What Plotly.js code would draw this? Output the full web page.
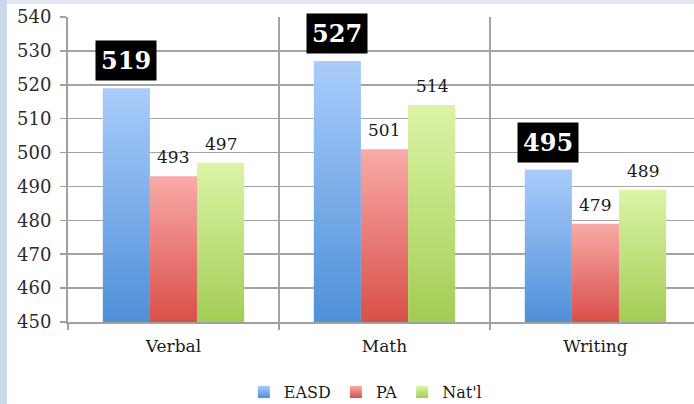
<!DOCTYPE html>
<html>
<head>
<meta charset="utf-8">
<script src="https://cdn.plot.ly/plotly-3.0.1.min.js"></script>
<style>
  html, body { margin: 0; padding: 0; width: 694px; height: 404px; overflow: hidden; background: #c9d8ea; }
  #topstrip { position: absolute; left: 7px; top: 0; width: 687px; height: 4px; background: #e2e8f1; }
  #chart { position: absolute; left: 7px; top: 4px; width: 687px; height: 400px; background: #fff; }
</style>
</head>
<body>
<div id="topstrip"></div>
<div id="chart"></div>
<script>
const categories = ["Verbal", "Math", "Writing"];
const seriesNames = ["EASD", "PA", "Nat'l"];
const easd = [519, 527, 495];
const pa = [493, 501, 479];
const natl = [497, 514, 489];
const yTicks = [450, 460, 470, 480, 490, 500, 510, 520, 530, 540];

const midColors = ["#79aaea", "#ec807b", "#c4e37e"];
const gradStops = [
  ["#a9ccfb", "#4f90d8"],
  ["#f8aba7", "#d94f49"],
  ["#dcf4a6", "#a3cd55"]
];

const seriesVals = [easd, pa, natl];
const traces = seriesVals.map((vals, i) => ({
  type: "bar",
  name: seriesNames[i],
  x: categories,
  y: vals,
  marker: { color: midColors[i], line: { width: 0 } },
  hoverinfo: "skip"
}));

const barW = 0.224;
const annotations = [];
categories.forEach((c, ci) => {
  annotations.push({
    x: ci - barW, y: easd[ci], xref: "x", yref: "y",
    text: "<b>" + easd[ci] + "</b>", showarrow: false,
    yanchor: "bottom", yshift: 7,
    bgcolor: "#000000", borderpad: 5,
    font: { family: "DejaVu Serif", size: 24, color: "#ffffff" }
  });
  annotations.push({
    x: ci, y: pa[ci], xref: "x", yref: "y",
    text: String(pa[ci]), showarrow: false,
    yanchor: "bottom", yshift: 7,
    font: { family: "DejaVu Serif", size: 17, color: "#1a1a1a" }
  });
  annotations.push({
    x: ci + barW, y: natl[ci], xref: "x", yref: "y",
    text: String(natl[ci]), showarrow: false,
    yanchor: "bottom", yshift: 7,
    font: { family: "DejaVu Serif", size: 17, color: "#1a1a1a" }
  });
});

const layout = {
  width: 687, height: 400,
  margin: { l: 61, r: 0, t: 13, b: 82, autoexpand: false },
  paper_bgcolor: "#ffffff",
  plot_bgcolor: "#ffffff",
  barmode: "group",
  bargap: 0.33,
  bargroupgap: 0,
  showlegend: true,
  legend: {
    orientation: "h", x: 0.475, xanchor: "center",
    yref: "container", y: 0.03, yanchor: "middle",
    font: { family: "DejaVu Serif", size: 16, color: "#1a1a1a" },
    itemwidth: 30, traceorder: "normal"
  },
  font: { family: "DejaVu Serif", color: "#333333" },
  xaxis: {
    type: "category",
    range: [-0.5, 2.467],
    tickson: "boundaries",
    ticks: "outside", ticklen: 6, tickcolor: "#a0a0a0", tickwidth: 1.5,
    showgrid: true, gridcolor: "#a3a3a3", gridwidth: 1.5,
    showline: true, linecolor: "#a0a0a0", linewidth: 2,
    tickfont: { family: "DejaVu Serif", size: 17, color: "#1a1a1a" },
    ticklabelstandoff: 8,
    automargin: false,
    fixedrange: true
  },
  yaxis: {
    range: [450, 540],
    tickvals: yTicks,
    ticks: "outside", ticklen: 6, tickcolor: "#a0a0a0", tickwidth: 1.5,
    showgrid: true, gridcolor: "#a3a3a3", gridwidth: 1.5,
    showline: true, linecolor: "#a0a0a0", linewidth: 2,
    zeroline: false,
    tickfont: { family: "DejaVu Serif", size: 18, color: "#2b2b2b" },
    ticklabelstandoff: 5,
    automargin: false,
    fixedrange: true
  },
  annotations: annotations
};

Plotly.newPlot("chart", traces, layout, { displayModeBar: false, staticPlot: true }).then(gd => {
  const svgNS = "http://www.w3.org/2000/svg";
  const svg = gd.querySelector("svg.main-svg");
  let defs = svg.querySelector("defs");
  if (!defs) { defs = document.createElementNS(svgNS, "defs"); svg.insertBefore(defs, svg.firstChild); }
  const plotH = gd._fullLayout._size.h;
  let gid = 0;
  function makeGrad(st, y1, y2, units) {
    const g = document.createElementNS(svgNS, "linearGradient");
    const id = "bargrad" + (gid++);
    g.setAttribute("id", id);
    g.setAttribute("gradientUnits", units);
    g.setAttribute("x1", "0"); g.setAttribute("x2", "0");
    g.setAttribute("y1", String(y1)); g.setAttribute("y2", String(y2));
    [[0, st[0]], [1, st[1]]].forEach(([o, c]) => {
      const s = document.createElementNS(svgNS, "stop");
      s.setAttribute("offset", o); s.setAttribute("stop-color", c);
      g.appendChild(s);
    });
    defs.appendChild(g);
    return id;
  }
  const groups = gd.querySelectorAll(".barlayer .trace.bars");
  groups.forEach((tg, i) => {
    tg.querySelectorAll("path").forEach(p => {
      const bb = p.getBBox();
      const y1 = Math.max(bb.y, 0);
      const y2 = Math.min(bb.y + bb.height, plotH);
      const id = makeGrad(gradStops[i], y1, y2, "userSpaceOnUse");
      p.style.fill = "url(#" + id + ")";
    });
  });
  gd.querySelectorAll(".legend .traces").forEach((lt, i) => {
    const id = makeGrad(gradStops[i], 0, 1, "objectBoundingBox");
    lt.querySelectorAll(".legendpoints path").forEach(p => { p.style.fill = "url(#" + id + ")"; });
  });
});
</script>
</body>
</html>
